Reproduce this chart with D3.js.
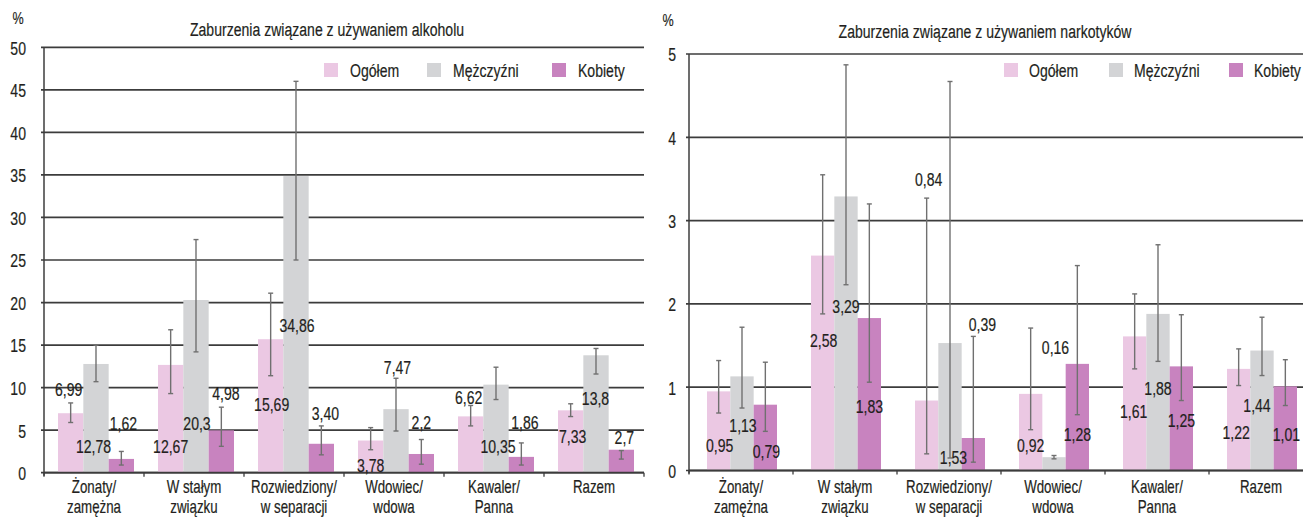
<!DOCTYPE html>
<html>
<head>
<meta charset="utf-8">
<script src="https://cdn.jsdelivr.net/npm/d3@7"></script>
<style>
  html, body { margin: 0; padding: 0; background: #fff; overflow: hidden; }
  svg { display: block; }
  text { font-family: "Liberation Sans", Arial, sans-serif; fill: #231f20; stroke: #231f20; stroke-width: 0.2px; }
</style>
</head>
<body>
<svg id="chart" width="1303" height="518"></svg>
<script>
// ---- data ----
const categories = [
  ["Żonaty/", "zamężna"],
  ["W stałym", "związku"],
  ["Rozwiedziony/", "w separacji"],
  ["Wdowiec/", "wdowa"],
  ["Kawaler/", "Panna"],
  ["Razem"]
];
const series = ["Ogółem", "Mężczyźni", "Kobiety"];
const seriesColors = ["#ebc8e3", "#d3d4d6", "#c883bf"];

// Alcohol use disorders (%), values as printed
const alcOgolem    = ["6,99", "12,67", "15,69", "3,78", "6,62", "7,33"];
const alcMezczyzni = ["12,78", "20,3", "34,86", "7,47", "10,35", "13,8"];
const alcKobiety   = ["1,62", "4,98", "3,40", "2,2", "1,86", "2,7"];
// 95% confidence intervals [low, high]
const alcOgolemCI    = [[5.9, 8.2], [9.3, 16.8], [11.4, 21.1], [2.7, 5.3], [5.5, 7.9], [6.6, 8.1]];
const alcMezczyzniCI = [[10.7, 15.0], [14.2, 27.4], [25.0, 46.0], [4.9, 11.1], [8.6, 12.4], [11.6, 14.6]];
const alcKobietyCI   = [[0.9, 2.5], [3.1, 7.7], [2.1, 5.5], [1.0, 3.9], [0.9, 3.5], [1.6, 2.6]];
const alcTicks = [0, 5, 10, 15, 20, 25, 30, 35, 40, 45, 50];

// Drug use disorders (%), values as printed
const drgOgolem    = ["0,95", "2,58", "0,84", "0,92", "1,61", "1,22"];
const drgMezczyzni = ["1,13", "3,29", "1,53", "0,16", "1,88", "1,44"];
const drgKobiety   = ["0,79", "1,83", "0,39", "1,28", "1,25", "1,01"];
const drgOgolemCI    = [[0.69, 1.32], [1.88, 3.55], [0.20, 3.27], [0.49, 1.71], [1.22, 2.12], [1.02, 1.46]];
const drgMezczyzniCI = [[0.75, 1.72], [2.23, 4.87], [0.15, 4.67], [0.14, 0.18], [1.31, 2.71], [1.14, 1.84]];
const drgKobietyCI   = [[0.47, 1.30], [1.06, 3.20], [0.10, 1.61], [0.67, 2.46], [0.84, 1.87], [0.78, 1.33]];
const drgTicks = [0, 1, 2, 3, 4, 5];

// ---- value-label placement (axis units for the label centre, px shift) ----
const alcLabelAt = [
  [9.8, 3.1, 8.0, 0.9, 8.9, 4.3],
  [3.1, 5.8, 17.4, 12.4, 3.1, 8.75],
  [5.8, 9.3, 7.0, 5.9, 5.9, 4.2]
];
const alcLabelDx = [
  [-2, 0, 1, 0, -2, 2],
  [-2.5, 1, 1, 1.5, 2, -0.5],
  [2, 4.5, 4, 0, 3.5, 3]
];
const drgLabelAt = [
  [0.30, 1.56, 3.50, 0.30, 0.71, 0.46],
  [0.54, 1.97, 0.16, 1.48, 0.99, 0.78],
  [0.23, 0.77, 1.76, 0.44, 0.61, 0.44]
];
const drgLabelDx = [
  [1, 1, 2, 0, -1, -2.5],
  [1, 0, 3.5, 1.5, 0, -5],
  [1, 0, 9, 0, 0, 1]
];

const num = s => +s.replace(",", ".");
const SX = 0.74;               // horizontal squeeze for a condensed typeface look
const squeeze = (x, y) => `translate(${x},${y}) scale(${SX},1)`;
const svg = d3.select("#chart");

function drawPanel(p) {
  const g = svg.append("g");
  const x0 = d3.scaleBand().domain(d3.range(categories.length)).range([p.left, p.right]);
  const x1 = d3.scaleBand().domain(series).range(p.inner);
  const y = d3.scaleLinear().domain([0, p.max]).range([p.zero, p.top]);

  // horizontal gridlines
  g.append("g").selectAll("line").data(p.ticks).join("line")
    .attr("x1", p.left - 3).attr("x2", p.gridEnd)
    .attr("y1", d => y(d)).attr("y2", d => y(d))
    .attr("stroke", "#3c3c3c").attr("stroke-width", 1.7);

  // vertical axis line
  g.append("line")
    .attr("x1", p.left).attr("x2", p.left)
    .attr("y1", y(p.max)).attr("y2", y(0) + 3)
    .attr("stroke", "#3c3c3c").attr("stroke-width", 1.5);

  // y tick labels
  const pad = p.left - p.labelEnd;
  const yAxis = d3.axisLeft(y).tickValues(p.ticks).tickSize(0).tickFormat(d3.format("d"));
  const ya = g.append("g").attr("transform", `translate(${p.left},0)`).call(yAxis);
  ya.select(".domain").remove();
  ya.selectAll("text")
    .attr("font-size", 19).attr("font-family", null).attr("fill", null)
    .attr("x", -pad / SX).attr("dy", "0.36em")
    .attr("transform", `scale(${SX},1)`);

  // bars
  p.values.forEach((vals, si) => {
    g.append("g").selectAll("rect").data(vals).join("rect")
      .attr("x", (d, i) => x0(i) + x1(series[si]))
      .attr("width", x1.bandwidth())
      .attr("y", d => y(num(d)))
      .attr("height", d => y(0) - y(num(d)))
      .attr("fill", seriesColors[si]);
  });

  // x axis baseline and category separators
  g.append("line")
    .attr("x1", p.left).attr("x2", p.gridEnd)
    .attr("y1", y(0)).attr("y2", y(0))
    .attr("stroke", "#3c3c3c").attr("stroke-width", 1.8);
  g.append("g").selectAll("line").data(d3.range(categories.length + 1)).join("line")
    .attr("x1", i => p.left + i * x0.step()).attr("x2", i => p.left + i * x0.step())
    .attr("y1", y(0)).attr("y2", y(0) + 4)
    .attr("stroke", "#3c3c3c").attr("stroke-width", 1.3);

  // error bars
  p.ci.forEach((cis, si) => {
    const eg = g.append("g").attr("stroke", "#707070").attr("stroke-width", 1.4);
    cis.forEach((c, i) => {
      const cx = x0(i) + x1(series[si]) + x1.bandwidth() / 2;
      eg.append("line").attr("x1", cx).attr("x2", cx).attr("y1", y(c[0])).attr("y2", y(c[1]));
      eg.append("line").attr("x1", cx - 2.5).attr("x2", cx + 2.5).attr("y1", y(c[0])).attr("y2", y(c[0]));
      eg.append("line").attr("x1", cx - 2.5).attr("x2", cx + 2.5).attr("y1", y(c[1])).attr("y2", y(c[1]));
    });
  });

  // value labels
  p.values.forEach((vals, si) => {
    g.append("g").selectAll("text").data(vals).join("text")
      .attr("transform", (d, i) => squeeze(
        x0(i) + x1(series[si]) + x1.bandwidth() / 2 + p.labelDx[si][i],
        y(p.labelAt[si][i])))
      .attr("dy", "0.36em")
      .attr("text-anchor", "middle")
      .attr("font-size", 19)
      .text(d => d);
  });

  // category labels
  const cl = g.append("g").selectAll("text").data(categories).join("text")
    .attr("transform", (d, i) => squeeze(x0(i) + x0.bandwidth() / 2, 0))
    .attr("text-anchor", "middle").attr("font-size", 18);
  cl.each(function (lines) {
    d3.select(this).selectAll("tspan").data(lines).join("tspan")
      .attr("x", 0)
      .attr("y", (d, k) => 493 + k * 20)
      .text(d => d);
  });

  // title and unit
  g.append("text").attr("transform", squeeze(p.titleX, p.titleY)).attr("text-anchor", "middle")
    .attr("font-size", 19).text(p.title);
  g.append("text").attr("transform", squeeze(p.unitX, p.unitY)).attr("text-anchor", "middle")
    .attr("font-size", 17).text("%");

  // legend
  series.forEach((s, si) => {
    g.append("rect").attr("x", p.legendX[si]).attr("y", 63).attr("width", 14).attr("height", 14)
      .attr("fill", seriesColors[si]);
    g.append("text").attr("transform", squeeze(p.legendX[si] + p.legendGap, 70)).attr("dy", "0.36em")
      .attr("font-size", 19).text(s);
  });
}

drawPanel({
  left: 44, right: 644, gridEnd: 644, inner: [14, 90],
  zero: 472.7, top: 47.3, max: 50, ticks: alcTicks, labelEnd: 26,
  values: [alcOgolem, alcMezczyzni, alcKobiety],
  ci: [alcOgolemCI, alcMezczyzniCI, alcKobietyCI],
  labelAt: alcLabelAt, labelDx: alcLabelDx,
  title: "Zaburzenia związane z używaniem alkoholu", titleX: 327, titleY: 36,
  unitX: 18, unitY: 24,
  legendX: [324, 427, 552], legendGap: 26
});

drawPanel({
  left: 689, right: 1313, gridEnd: 1313, inner: [18, 88],
  zero: 470.5, top: 54, max: 5, ticks: drgTicks, labelEnd: 676,
  values: [drgOgolem, drgMezczyzni, drgKobiety],
  ci: [drgOgolemCI, drgMezczyzniCI, drgKobietyCI],
  labelAt: drgLabelAt, labelDx: drgLabelDx,
  title: "Zaburzenia związane z używaniem narkotyków", titleX: 985, titleY: 38,
  unitX: 668, unitY: 26,
  legendX: [1004, 1109, 1229], legendGap: 25
});
</script>
</body>
</html>
